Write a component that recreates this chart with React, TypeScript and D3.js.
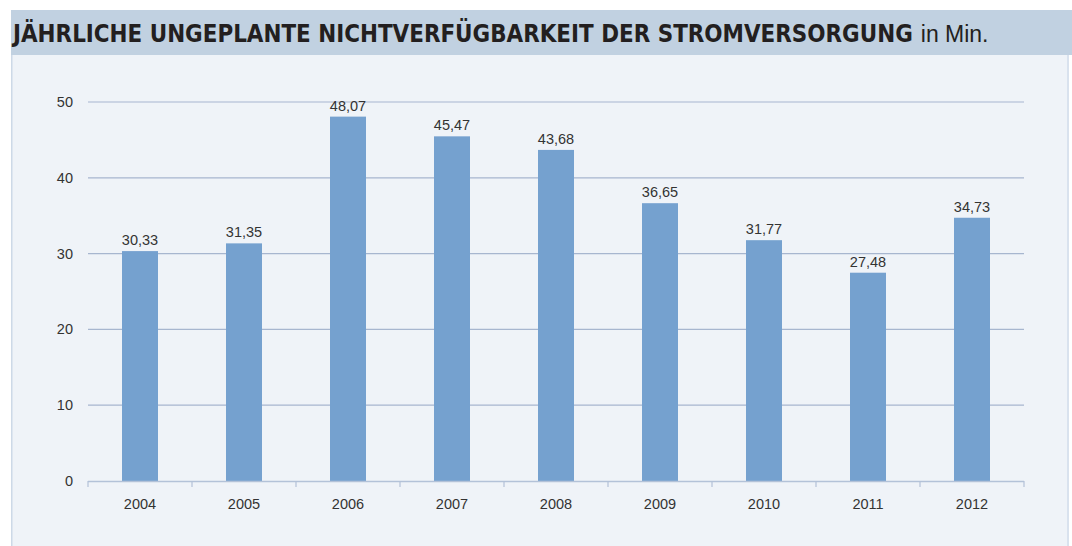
import React, { useEffect, useRef, useState } from "react";
import * as d3 from "d3";

const years = ["2004", "2005", "2006", "2007", "2008", "2009", "2010", "2011", "2012"];
const values = [30.33, 31.35, 48.07, 45.47, 43.68, 36.65, 31.77, 27.48, 34.73];
const yTicks = [0, 10, 20, 30, 40, 50];
const titleBold = "JÄHRLICHE UNGEPLANTE NICHTVERFÜGBARKEIT DER STROMVERSORGUNG";
const titleUnit = "in Min.";

const W = 1072;
const H = 546;
const plot = { left: 88, right: 1024, top: 102, bottom: 481 };

export default function App() {
  const titleRef = useRef<SVGTextElement>(null);
  const [titleSize, setTitleSize] = useState(24);
  const [unitX, setUnitX] = useState(922);

  useEffect(() => {
    const el = titleRef.current;
    if (!el) return;
    const len = el.getComputedTextLength();
    if (len > 0) {
      const target = 900;
      if (Math.abs(len - target) > 2) {
        const ns = (titleSize * target) / len;
        setTitleSize(ns);
      } else {
        setUnitX(13 + len + 8);
      }
    }
  }, [titleSize]);

  const x = d3.scaleBand<string>().domain(years).range([plot.left, plot.right]).paddingInner(0).paddingOuter(0);
  const y = d3.scaleLinear().domain([0, 50]).range([plot.bottom, plot.top]);
  const bw = x.bandwidth();
  const barW = 36;
  const fmt = (v: number) => v.toFixed(2).replace(".", ",");
  const font = "'Liberation Sans', Arial, sans-serif";
  const boundaries = years.map((yr) => x(yr) as number).concat([plot.right]);

  return (
    <svg width={W} height={H} style={{ position: "absolute", left: 0, top: 0 }}>
      <rect x={0} y={0} width={W} height={H} fill="#ffffff" />
      <rect x={11} y={55} width={1058} height={491} fill="#eff3f8" />
      <rect x={11} y={55} width={1.5} height={491} fill="#cdd9e7" />
      <rect x={1067} y={55} width={2} height={491} fill="#d9e2ee" />
      <rect x={11} y={10} width={1061} height={45} fill="#c1d1e1" />
      <text ref={titleRef} x={13} y={42} fill="#231f20" fontFamily="'Liberation Sans Narrow', 'DejaVu Sans Condensed', 'Liberation Sans', sans-serif" fontWeight="bold" fontSize={titleSize}>
        {titleBold}
      </text>
      <text x={unitX} y={42} fill="#231f20" fontFamily="'Liberation Sans', Arial, sans-serif" fontSize={23}>
        {titleUnit}
      </text>
      {yTicks.filter((t) => t > 0).map((t) => (
        <line key={t} x1={plot.left} x2={plot.right} y1={y(t)} y2={y(t)} stroke="#a7b6cf" strokeWidth={1.2} />
      ))}
      {yTicks.map((t) => (
        <text key={"l" + t} x={73} y={y(t) + 5} textAnchor="end" fontFamily={font} fontSize={14.5} fill="#333333">
          {t}
        </text>
      ))}
      {years.map((yr, i) => {
        const cx = (x(yr) as number) + bw / 2;
        return (
          <g key={yr}>
            <rect x={cx - barW / 2} y={y(values[i])} width={barW} height={plot.bottom - y(values[i])} fill="#75a1cf" />
            <text x={cx} y={y(values[i]) - 6} textAnchor="middle" fontFamily={font} fontSize={14.5} fill="#333333">
              {fmt(values[i])}
            </text>
            <text x={cx} y={plot.bottom + 28} textAnchor="middle" fontFamily={font} fontSize={14.5} fill="#333333">
              {yr}
            </text>
          </g>
        );
      })}
      <line x1={plot.left} x2={plot.right} y1={plot.bottom + 0.5} y2={plot.bottom + 0.5} stroke="#b3c2d8" strokeWidth={1.5} />
      {boundaries.map((b, i) => (
        <line key={"t" + i} x1={b} x2={b} y1={plot.bottom} y2={plot.bottom + 6} stroke="#b3c2d8" strokeWidth={1.2} />
      ))}
    </svg>
  );
}
